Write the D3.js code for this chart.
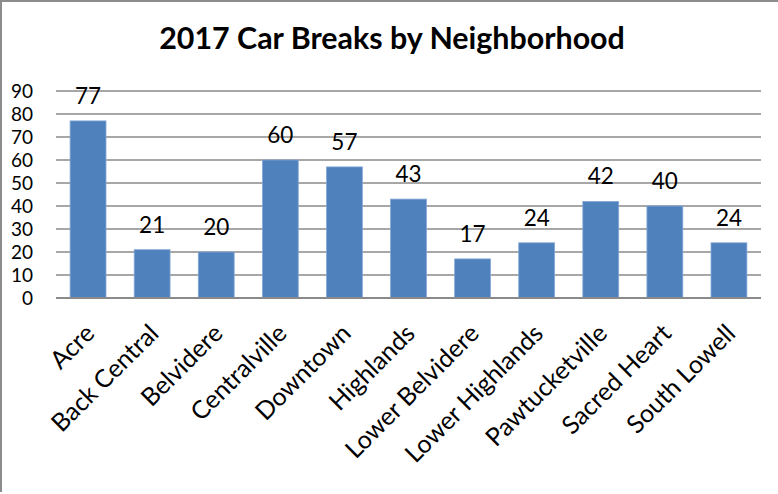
<!DOCTYPE html>
<html>
<head>
<meta charset="utf-8">
<script src="https://cdn.jsdelivr.net/npm/d3@7"></script>
<style>
  html, body { margin: 0; padding: 0; background: #fff; }
  svg { display: block; font-family: Lato, "Open Sans", sans-serif; }
</style>
</head>
<body>
<svg id="chart" width="778" height="494"></svg>
<script>
// 2017 car break counts per neighborhood
const neighborhoods = ["Acre", "Back Central", "Belvidere", "Centralville", "Downtown",
  "Highlands", "Lower Belvidere", "Lower Highlands", "Pawtucketville", "Sacred Heart", "South Lowell"];
const carBreaks = [77, 21, 20, 60, 57, 43, 17, 24, 42, 40, 24];
const yTicks = [0, 10, 20, 30, 40, 50, 60, 70, 80, 90];

const svg = d3.select("#chart");
const W = 778, H = 494;
const plot = { left: 56, right: 761, top: 91, bottom: 298 };

// chart frame (left and top edges)
svg.append("path")
  .attr("d", `M1,${H - 2}V1H${W}`)
  .attr("fill", "none")
  .attr("stroke", "#8c8c8c")
  .attr("stroke-width", 2);

svg.append("text")
  .attr("x", 392)
  .attr("y", 49)
  .attr("text-anchor", "middle")
  .attr("font-size", 30.4)
  .attr("font-weight", "bold")
  .attr("fill", "#000")
  .text("2017 Car Breaks by Neighborhood");

const x = d3.scaleBand()
  .domain(neighborhoods)
  .range([plot.left, plot.right])
  .paddingInner(0.44)
  .paddingOuter(0.22);

const y = d3.scaleLinear()
  .domain([0, 90])
  .range([plot.bottom, plot.top]);

// horizontal gridlines
svg.append("g")
  .selectAll("line")
  .data(yTicks.filter(t => t > 0))
  .join("line")
  .attr("x1", plot.left)
  .attr("x2", plot.right)
  .attr("y1", d => y(d))
  .attr("y2", d => y(d))
  .attr("stroke", "#8a8a8a")
  .attr("stroke-width", 1.5);

// y axis labels
const yAxis = d3.axisLeft(y).tickValues(yTicks).tickSize(0).tickPadding(0);
const yg = svg.append("g")
  .attr("transform", `translate(33,0)`)
  .call(yAxis);
yg.select(".domain").remove();
yg.selectAll("text")
  .attr("font-family", "Lato, 'Open Sans', sans-serif")
  .attr("font-size", 19)
  .attr("fill", "#000")
  .attr("dy", "0.36em");

// bars
svg.append("g")
  .selectAll("rect")
  .data(neighborhoods)
  .join("rect")
  .attr("x", d => x(d))
  .attr("width", x.bandwidth())
  .attr("y", (d, i) => y(carBreaks[i]))
  .attr("height", (d, i) => y(0) - y(carBreaks[i]))
  .attr("fill", "#4f81bd")
  .attr("stroke", "#86a9d6")
  .attr("stroke-width", 0.8);

// value labels above bars
svg.append("g")
  .selectAll("text")
  .data(neighborhoods)
  .join("text")
  .attr("x", d => x(d) + x.bandwidth() / 2)
  .attr("y", (d, i) => y(carBreaks[i]) - 17)
  .attr("text-anchor", "middle")
  .attr("font-size", 22.5)
  .attr("fill", "#000")
  .text((d, i) => carBreaks[i]);

// baseline axis
svg.append("line")
  .attr("x1", plot.left)
  .attr("x2", plot.right)
  .attr("y1", y(0))
  .attr("y2", y(0))
  .attr("stroke", "#8a8a8a")
  .attr("stroke-width", 2);

// rotated category labels
const xAxis = d3.axisBottom(x).tickSize(0).tickPadding(0);
const xg = svg.append("g")
  .attr("transform", `translate(0,${y(0)})`)
  .call(xAxis);
xg.select(".domain").remove();
xg.selectAll("text")
  .attr("font-family", "Lato, 'Open Sans', sans-serif")
  .attr("font-size", 25)
  .attr("fill", "#000")
  .attr("text-anchor", "end")
  .attr("dy", null)
  .attr("y", 0)
  .attr("transform", "translate(8,37) rotate(-45)");
</script>
</body>
</html>
